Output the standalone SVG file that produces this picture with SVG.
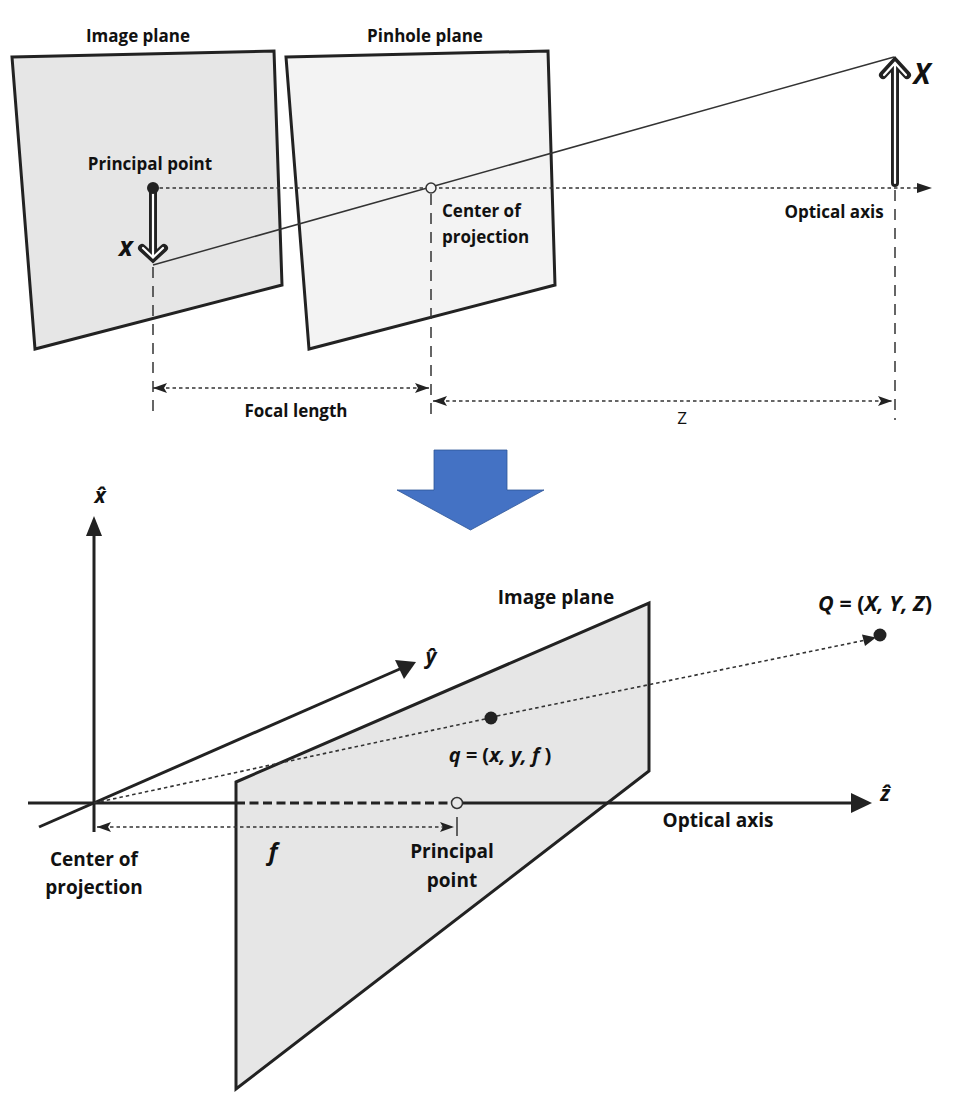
<svg xmlns="http://www.w3.org/2000/svg" width="960" height="1111" viewBox="0 0 960 1111">
<style>
text{font-family:"Open Sans","Liberation Sans",sans-serif;font-size:17px;font-weight:700;fill:#111;text-anchor:middle}
.i{font-style:italic;font-weight:700}
.m{font-style:italic;font-weight:700;font-size:21.500px}
.b{font-size:19px}
.plane{stroke:#222;stroke-width:3;stroke-linejoin:miter}
.dot{fill:none;stroke:#333;stroke-width:1.600;stroke-dasharray:3.500 3}
.dash{fill:none;stroke:#333;stroke-width:1.500;stroke-dasharray:11 8}
.thin{fill:none;stroke:#333;stroke-width:1.500}
.axis{fill:none;stroke:#222;stroke-width:3}
.hd{fill:#222}
</style>
<defs>
<marker id="sm" markerUnits="userSpaceOnUse" markerWidth="16" markerHeight="12" refX="14" refY="6" orient="auto-start-reverse"><path d="M0 1L14 6L0 11L3 6Z" class="hd"/></marker>
</defs>
<rect width="960" height="1111" fill="#fff"/>
<g id="image-plane-top"><path class="plane" fill="#e6e6e6" d="M12 57L274 51L282 285L35 349Z"/></g>
<g id="pinhole-plane"><path class="plane" fill="#f3f3f3" d="M286 57L548 51L555 285L309 349Z"/></g>
<g id="connectors">
<path class="dot" d="M153 188H917"/><path class="hd" d="M917 183L932 188L917 193Z"/>
<path class="thin" d="M153 265L894 57"/>
<path class="dash" d="M153 267V415M431 194V420M895 190V420"/>
<path class="dot" d="M153 388H429" marker-start="url(#sm)" marker-end="url(#sm)"/>
<path class="dot" d="M433 401H892" marker-start="url(#sm)" marker-end="url(#sm)"/>
</g>
<g id="arrow-x"><path d="M153 188V256M142 248L153 258L164 248" fill="none" stroke="#222" stroke-width="8" stroke-linecap="round" stroke-linejoin="miter"/><path d="M153 192V257M143 248L153 257.500L163 248" fill="none" stroke="#fff" stroke-width="2.200" stroke-linecap="round"/><circle cx="153" cy="188" r="6" fill="#222"/></g>
<g id="arrow-X"><path d="M895 183V64M883 75L895 62L907 75" fill="none" stroke="#222" stroke-width="8" stroke-linecap="round" stroke-linejoin="miter"/><path d="M895 183V63M884 75L895 63L906 75" fill="none" stroke="#fff" stroke-width="2.200" stroke-linecap="round"/></g>
<g id="center-top"><circle cx="431" cy="188" r="5" fill="#f3f3f3" stroke="#333" stroke-width="1.500"/></g>
<g id="labels-top">
<text x="138" y="42">Image plane</text>
<text x="425" y="42">Pinhole plane</text>
<text x="150" y="170">Principal point</text>
<text x="442" y="217" style="text-anchor:start">Center of</text>
<text x="442" y="243" style="text-anchor:start">projection</text>
<text x="834" y="218">Optical axis</text>
<text x="126" y="256" class="i" style="font-size:26px">x</text>
<text x="922" y="84" class="i" style="font-size:28px">X</text>
<text x="296" y="417">Focal length</text>
<text x="682" y="424" style="font-weight:400">Z</text>
</g>
<g id="block-arrow"><path d="M434 450H507V490H544L470.500 530L397 490H434Z" fill="#4472c4" stroke="#2f5597" stroke-width="0.800"/></g>
<g id="image-plane-bottom"><path class="plane" fill="#e6e6e6" d="M236 782L649 603V771L236 1089Z"/></g>
<g id="axes">
<path class="axis" d="M94 832V530"/><path class="hd" d="M86 536L94 516L102 536Z"/>
<path class="axis" d="M39 827L402 668"/><path class="hd" d="M416 662L404 679L395 660Z"/>
<path class="axis" d="M28 803H236M457 803H855"/><path class="hd" d="M851 793L872 803L851 813Z"/>
<path d="M236 803H450" fill="none" stroke="#222" stroke-width="3" stroke-dasharray="9 4.500"/>
<path class="dot" d="M94 803L485 719M497 716L866 640"/>
<path class="hd" d="M862 634.500L876 637.500L865 646Z"/>
<path class="dot" d="M97 827H454" marker-start="url(#sm)" marker-end="url(#sm)"/>
<path d="M457 817V836" class="thin"/>
</g>
<g id="points">
<circle cx="457" cy="803" r="5.500" fill="#e6e6e6" stroke="#333" stroke-width="1.500"/>
<circle cx="491" cy="718" r="6.500" fill="#222"/>
<circle cx="880" cy="635" r="6.500" fill="#222"/>
</g>
<g id="labels-bottom">
<text x="100" y="503" class="i" style="font-size:21px">x̂</text>
<text x="431" y="664" class="i" style="font-size:21px">ŷ</text>
<text x="885" y="801" class="i" style="font-size:21px">ẑ</text>
<text x="556" y="604" class="b">Image plane</text>
<text x="875" y="611" class="m"><tspan>Q = </tspan><tspan font-style="normal">(</tspan><tspan>X, Y, Z</tspan><tspan font-style="normal">)</tspan></text>
<text x="500" y="762" class="m" style="font-size:20px"><tspan>q = </tspan><tspan font-style="normal">(</tspan><tspan>x, y, f </tspan><tspan font-style="normal">)</tspan></text>
<text x="718" y="827" class="b">Optical axis</text>
<text x="94" y="866" class="b">Center of</text>
<text x="94" y="894" class="b">projection</text>
<text x="273" y="860" class="i" style="font-size:24px">f</text>
<text x="452" y="858" class="b">Principal</text>
<text x="452" y="887" class="b">point</text>
</g>
</svg>
